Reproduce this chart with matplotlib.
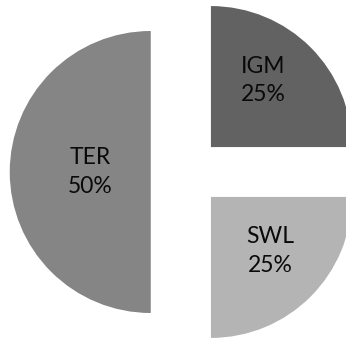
import matplotlib
matplotlib.use("Agg")
import matplotlib.pyplot as plt
import numpy as np

labels = ["IGM", "TER", "SWL"]
shares = [25, 50, 25]
colors = ["#626262", "#858585", "#b4b4b4"]
explode = [0.25, 0.25, 0.25]
# label radius (fraction of pie radius) and angle in degrees from wedge tip
label_r = [0.60, 0.43, 0.57]
label_ang = [52, 180, -42]

plt.rcParams['font.family'] = ['Lato', 'DejaVu Sans']

fig = plt.figure(figsize=(3.46, 3.39), dpi=100)
ax = fig.add_axes([0, 0, 1, 1])

wedges, _ = ax.pie(shares, colors=colors, explode=explode, startangle=0,
                   counterclock=True, radius=1.0)

for w, lab, val, r, a in zip(wedges, labels, shares, label_r, label_ang):
    cx, cy = w.center
    x = cx + r * np.cos(np.radians(a))
    y = cy + r * np.sin(np.radians(a))
    ax.text(x, y, f"{lab}\n{val}%", ha="center", va="center",
            fontsize=16.5, linespacing=1.45, color="#0a0a0a")

ax.set_xlim(-186 / 141, 160 / 141)
ax.set_ylim(-167 / 141, 172 / 141)
ax.set_aspect("auto")
ax.axis("off")

fig.savefig("out.png", dpi=100)
